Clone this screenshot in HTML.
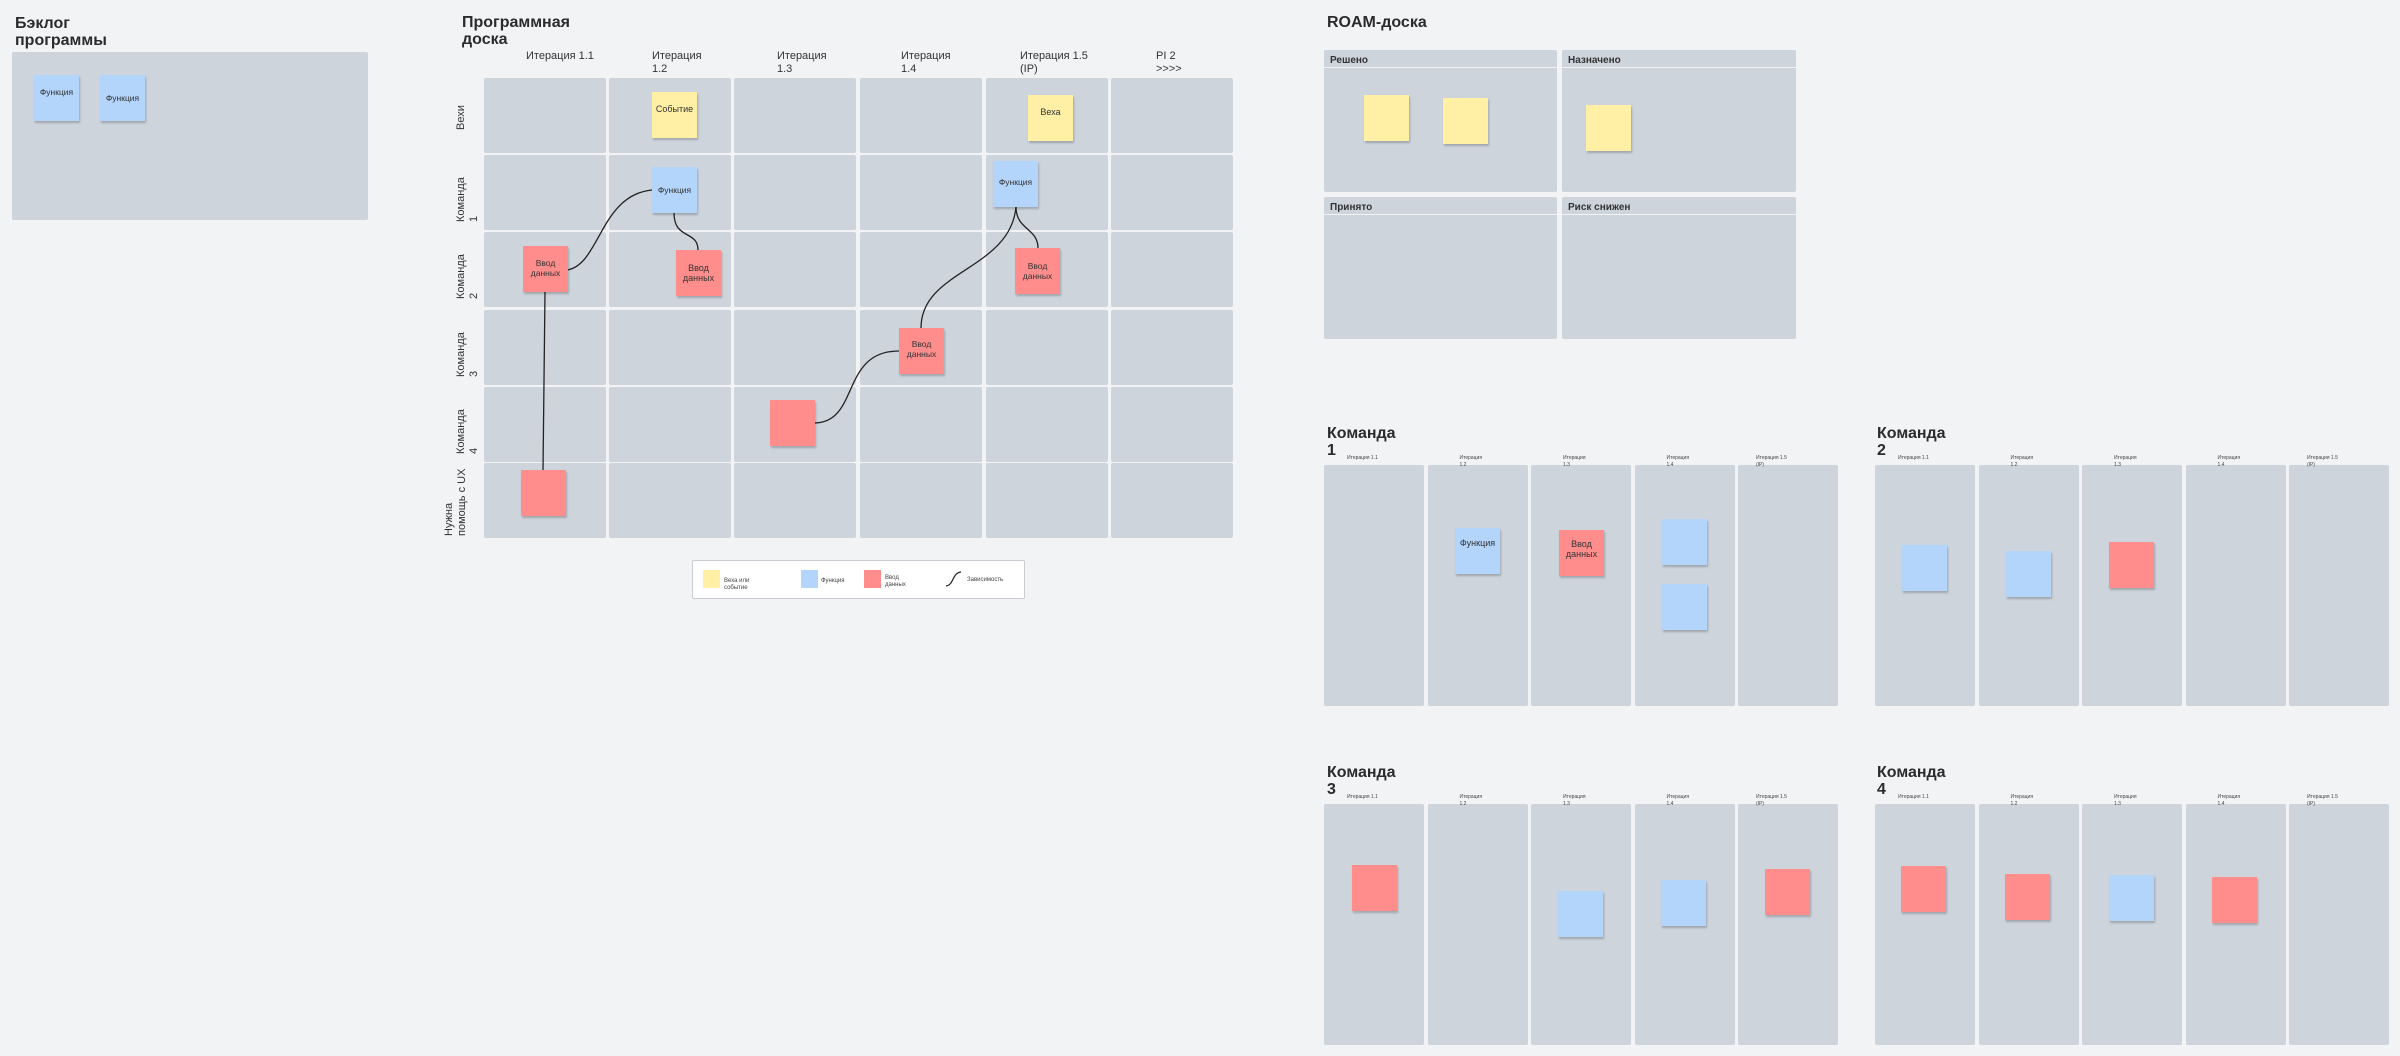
<!DOCTYPE html>
<html><head><meta charset="utf-8">
<style>
*{margin:0;padding:0;box-sizing:border-box}
body{width:2400px;height:1056px;background:#f2f3f5;position:relative;overflow:hidden;font-family:"Liberation Sans","Noto Sans CJK SC",sans-serif;color:#222}
.a{position:absolute}
.p{position:absolute;background:#cdd4dc;border-radius:2px}
.t{position:absolute;font-weight:bold;font-size:16px;line-height:17px;color:#2b2b2b}
.s{position:absolute;width:45px;height:46px;box-shadow:1px 2px 2px rgba(0,0,0,.22);display:flex;align-items:center;justify-content:center;text-align:center;font-size:8.5px;line-height:10px;color:#333}
.y{background:#fff0a6}.b{background:#b3d5fc}.r{background:#fe8d8c}
.h{position:absolute;font-size:11px;line-height:13px;color:#333}
.v{position:absolute;writing-mode:vertical-rl;transform:rotate(180deg);font-size:11px;line-height:13px;color:#333;text-align:left}
.m{position:absolute;font-size:5px;line-height:7px;color:#444}
</style></head><body>

<div class="t" style="left:15px;top:15px">Бэклог<br>программы</div>
<div class="p" style="left:12px;top:52px;width:356px;height:168px"></div>
<div class="s b" style="left:34px;top:75px;align-items:flex-start;padding-top:12px">Функция</div>
<div class="s b" style="left:100px;top:75px">Функция</div>

<div class="t" style="left:462px;top:14px">Программная<br>доска</div>
<div class="h" style="left:526px;top:50px">Итерация 1.1</div>
<div class="h" style="left:652px;top:50px">Итерация<br>1.2</div>
<div class="h" style="left:777px;top:50px">Итерация<br>1.3</div>
<div class="h" style="left:901px;top:50px">Итерация<br>1.4</div>
<div class="h" style="left:1020px;top:50px">Итерация 1.5<br>(IP)</div>
<div class="h" style="left:1156px;top:50px">PI 2<br>&gt;&gt;&gt;&gt;</div>

<div id="grid"></div>
<script>
var g='';var xs=[484,609,734,860,986,1111];var ys=[78,155,232,310,387,463];
for(var i=0;i<6;i++)for(var j=0;j<6;j++)g+='<div class="p" style="left:'+xs[i]+'px;top:'+ys[j]+'px;width:122px;height:75px"></div>';
document.getElementById('grid').outerHTML=g;
</script>

<div class="v" style="left:455px;top:100px;height:30px">Вехи</div>
<div class="v" style="left:455px;top:170px;height:52px">Команда<br>1</div>
<div class="v" style="left:455px;top:247px;height:52px">Команда<br>2</div>
<div class="v" style="left:455px;top:325px;height:52px">Команда<br>3</div>
<div class="v" style="left:455px;top:402px;height:52px">Команда<br>4</div>
<div class="v" style="left:443px;top:466px;height:70px">Нужна<br>помощь с UX</div>

<svg class="a" style="left:0;top:0" width="2400" height="1056">
<g fill="none" stroke="#222" stroke-width="1.3">
<path d="M567 270 C600 265 600 195 652 190"/>
<path d="M674 213 C674 240 698 230 698 250"/>
<path d="M1016 207 C1016 230 1038 228 1038 248"/>
<path d="M1016 207 C1010 270 921 270 921 328"/>
<path d="M899 351 C840 351 860 423 814 423"/>
<path d="M545 292 L543 470"/>
</g>
</svg>

<div class="s y" style="left:652px;top:92px;align-items:flex-start;padding-top:12px;font-size:9px">Событие</div>
<div class="s y" style="left:1028px;top:95px;align-items:flex-start;padding-top:12px;font-size:9px">Веха</div>
<div class="s b" style="left:652px;top:167px">Функция</div>
<div class="s b" style="left:993px;top:161px;align-items:flex-start;padding-top:16px">Функция</div>
<div class="s r" style="left:523px;top:246px;align-items:flex-start;padding-top:12px">Ввод<br>данных</div>
<div class="s r" style="left:676px;top:250px;font-size:9px">Ввод<br>данных</div>
<div class="s r" style="left:1015px;top:248px">Ввод<br>данных</div>
<div class="s r" style="left:899px;top:328px;align-items:flex-start;padding-top:11px">Ввод<br>данных</div>
<div class="s r" style="left:770px;top:400px"></div>
<div class="s r" style="left:521px;top:470px"></div>

<div class="a" style="left:692px;top:560px;width:333px;height:39px;background:#fff;border:1px solid #c9ccd0;border-radius:2px"></div>
<div class="a y" style="left:703px;top:570px;width:17px;height:18px"></div>
<div class="m" style="left:724px;top:578px;font-size:6px">Веха или<br>событие</div>
<div class="a b" style="left:801px;top:570px;width:17px;height:18px"></div>
<div class="m" style="left:821px;top:578px;font-size:6px">Функция</div>
<div class="a r" style="left:864px;top:570px;width:17px;height:18px"></div>
<div class="m" style="left:885px;top:575px;font-size:6px">Ввод<br>данных</div>
<svg class="a" style="left:944px;top:570px" width="20" height="18"><path d="M2 16 C10 15 8 3 17 2" fill="none" stroke="#222" stroke-width="1.2"/></svg>
<div class="m" style="left:967px;top:577px;font-size:6px">Зависимость</div>

<div class="t" style="left:1327px;top:14px">ROAM-доска</div>
<div class="p" style="left:1324px;top:50px;width:233px;height:142px"></div>
<div class="p" style="left:1562px;top:50px;width:234px;height:142px"></div>
<div class="p" style="left:1324px;top:197px;width:233px;height:142px"></div>
<div class="p" style="left:1562px;top:197px;width:234px;height:142px"></div>
<div class="a" style="left:1324px;top:67px;width:472px;height:1px;background:#f2f3f5"></div>
<div class="a" style="left:1324px;top:214px;width:472px;height:1px;background:#f2f3f5"></div>
<div class="h" style="left:1330px;top:54px;font-weight:bold;font-size:10px">Решено</div>
<div class="h" style="left:1568px;top:54px;font-weight:bold;font-size:10px">Назначено</div>
<div class="h" style="left:1330px;top:201px;font-weight:bold;font-size:10px">Принято</div>
<div class="h" style="left:1568px;top:201px;font-weight:bold;font-size:10px">Риск снижен</div>
<div class="s y" style="left:1364px;top:95px"></div>
<div class="s y" style="left:1443px;top:98px"></div>
<div class="s y" style="left:1586px;top:105px"></div>

<div id="teams"></div>
<script>
var h='';
var teams=[[1324,465,241,'1',[1327,425]],[1875,465,241,'2',[1877,425]],[1324,804,241,'3',[1327,764]],[1875,804,241,'4',[1877,764]]];
var lab=['Итерация 1.1','Итерация<br>1.2','Итерация<br>1.3','Итерация<br>1.4','Итерация 1.5<br>(IP)'];
var lx=[35,0,0,0,0];
teams.forEach(function(t){
 h+='<div class="t" style="left:'+t[4][0]+'px;top:'+t[4][1]+'px">Команда<br>'+t[3]+'</div>';
 for(var i=0;i<5;i++){var x=t[0]+i*103.5;
  h+='<div class="p" style="left:'+x+'px;top:'+t[1]+'px;width:100px;height:'+t[2]+'px"></div>';
  h+='<div class="m" style="left:'+(x+(i==0?23:(i==4?18:32)))+'px;top:'+(t[1]-10)+'px">'+lab[i]+'</div>';}
});
document.getElementById('teams').outerHTML=h;
</script>

<div class="s b" style="left:1455px;top:528px;font-size:9px;align-items:flex-start;padding-top:10px">Функция</div>
<div class="s r" style="left:1559px;top:530px;font-size:9px;align-items:flex-start;padding-top:9px">Ввод<br>данных</div>
<div class="s b" style="left:1662px;top:519px"></div>
<div class="s b" style="left:1662px;top:584px"></div>
<div class="s b" style="left:1902px;top:545px"></div>
<div class="s b" style="left:2006px;top:551px"></div>
<div class="s r" style="left:2109px;top:542px"></div>

<div class="s r" style="left:1352px;top:865px"></div>
<div class="s b" style="left:1558px;top:891px"></div>
<div class="s b" style="left:1661px;top:880px"></div>
<div class="s r" style="left:1765px;top:869px"></div>
<div class="s r" style="left:1901px;top:866px"></div>
<div class="s r" style="left:2005px;top:874px"></div>
<div class="s b" style="left:2109px;top:875px"></div>
<div class="s r" style="left:2212px;top:877px"></div>
</body></html>
